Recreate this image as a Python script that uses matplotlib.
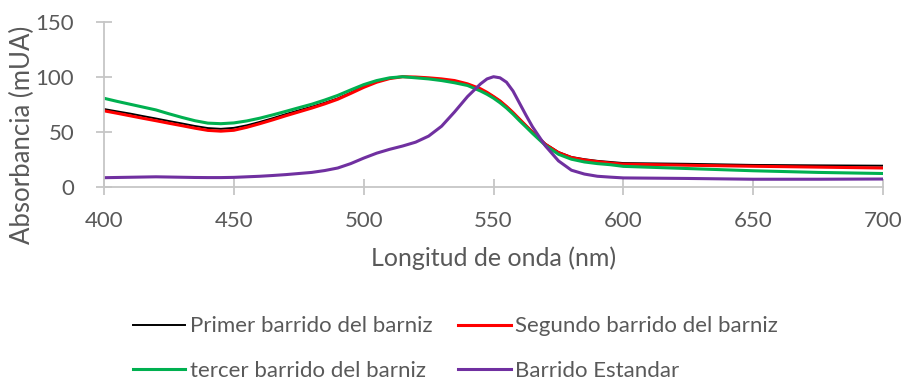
#! /usr/bin/env python3
# -*- coding: utf-8 -*-
"""
    espectros de absorbancia: barridos del barniz vs estandar
"""
import matplotlib
matplotlib.use("Agg")
import matplotlib.pyplot as plt

plt.rcParams['font.family'] = ['Lato', 'DejaVu Sans']

wavelength = [400, 405, 410, 415, 420, 425, 430, 435, 440, 445,
              450, 455, 460, 465, 470, 475, 480, 485, 490, 495,
              500, 505, 510, 515, 520, 525, 530, 535, 540, 545,
              547.5, 550, 552.5, 555, 557.5, 560, 562.5, 565, 570, 575,
              580, 585, 590, 595, 600, 625, 650, 675, 700]

primer = [70.6, 68.5, 66.5, 64.2, 62.0, 59.7, 57.5, 55.2, 53.3, 52.6,
          53.5, 55.8, 58.9, 62.3, 66.0, 69.4, 72.7, 76.3, 80.3, 85.5,
          91.3, 95.5, 98.5, 100.0, 99.5, 98.8, 97.8, 96.0, 93.0, 88.5,
          85.5, 82.0, 78.0, 73.0, 67.5, 61.5, 55.8, 50.0, 39.0, 31.5,
          27.0, 25.0, 23.5, 22.5, 21.5, 20.8, 19.8, 19.4, 19.1]

segundo = [69.0, 66.8, 64.5, 62.2, 60.0, 57.7, 55.5, 53.2, 51.2, 50.5,
           51.3, 54.0, 57.3, 60.8, 64.5, 68.0, 71.5, 75.3, 79.5, 84.8,
           90.3, 95.0, 98.3, 100.0, 99.7, 99.0, 98.0, 96.5, 93.5, 89.0,
           85.8, 82.0, 78.0, 73.0, 67.5, 61.5, 55.5, 49.5, 38.5, 31.0,
           26.5, 24.3, 22.8, 21.5, 20.5, 19.5, 18.6, 17.8, 17.0]

tercer = [80.4, 77.6, 75.0, 72.4, 69.8, 66.3, 63.0, 60.0, 57.8, 57.3,
          58.0, 59.8, 62.3, 65.3, 68.5, 71.8, 75.0, 78.8, 83.0, 88.0,
          92.8, 96.5, 99.0, 100.0, 99.0, 98.0, 96.5, 94.5, 92.0, 87.0,
          84.0, 80.5, 76.3, 71.5, 66.0, 60.0, 54.3, 48.5, 37.5, 29.5,
          25.0, 22.5, 21.0, 20.0, 18.5, 16.5, 14.5, 13.0, 12.0]

estandar = [8.2, 8.4, 8.6, 8.8, 9.0, 8.8, 8.6, 8.4, 8.3, 8.3,
            8.5, 9.0, 9.5, 10.2, 11.0, 12.0, 13.0, 14.7, 17.0, 21.0,
            26.0, 30.5, 34.0, 37.0, 40.5, 46.0, 55.0, 68.0, 82.0, 93.5,
            98.0, 100.0, 99.0, 95.0, 87.0, 76.0, 65.0, 54.5, 37.0, 23.5,
            15.0, 11.5, 9.5, 8.7, 8.0, 7.5, 6.8, 6.8, 7.0]

labels = ["Primer barrido del barniz", "Segundo barrido del barniz",
          "tercer barrido del barniz", "Barrido Estandar"]

grey = "#c6c6c6"
text_c = "#595959"

fig = plt.figure(figsize=(9.02, 3.83), dpi=100)
ax = fig.add_axes([0.1153, 0.5125, 0.8637, 0.4308])

l1, = ax.plot(wavelength, primer, color="black", lw=1.4)
l2, = ax.plot(wavelength, segundo, color="#ff0000", lw=2.2)
l3, = ax.plot(wavelength, tercer, color="#00b050", lw=2.2)
l4, = ax.plot(wavelength, estandar, color="#7030a0", lw=2.2)

ax.set_xlim(400, 700)
ax.set_ylim(0, 150)
ax.set_xticks(range(400, 701, 50))
ax.set_yticks(range(0, 151, 50))
for s in ["top", "right"]:
    ax.spines[s].set_visible(False)
for s in ["left", "bottom"]:
    ax.spines[s].set_color(grey)
    ax.spines[s].set_linewidth(1.3)
ax.tick_params(direction="inout", length=11, width=1.3, color=grey,
               labelcolor=text_c, labelsize=16)
ax.tick_params(axis="x", pad=12)
ax.tick_params(axis="y", pad=16)

ax.set_xlabel("Longitud de onda (nm)", fontsize=18, color=text_c)
ax.xaxis.label.set_verticalalignment("center")
ax.xaxis.set_label_coords(0.5006, -0.432)
ax.set_ylabel("Absorbancia (mUA)", fontsize=18.5, color=text_c)
ax.yaxis.label.set_verticalalignment("center")
ax.yaxis.set_label_coords(-0.105, 0.313)

fig.legend([l1, l3, l2, l4], [labels[0], labels[2], labels[1], labels[3]],
           ncol=2, loc="upper left", bbox_to_anchor=(0.1475, 0.174),
           frameon=False, fontsize=16, labelcolor=text_c,
           handlelength=2.35, handletextpad=0.22, columnspacing=1.15,
           labelspacing=1.12, borderpad=0, borderaxespad=0)

fig.savefig("out.png", dpi=100)
